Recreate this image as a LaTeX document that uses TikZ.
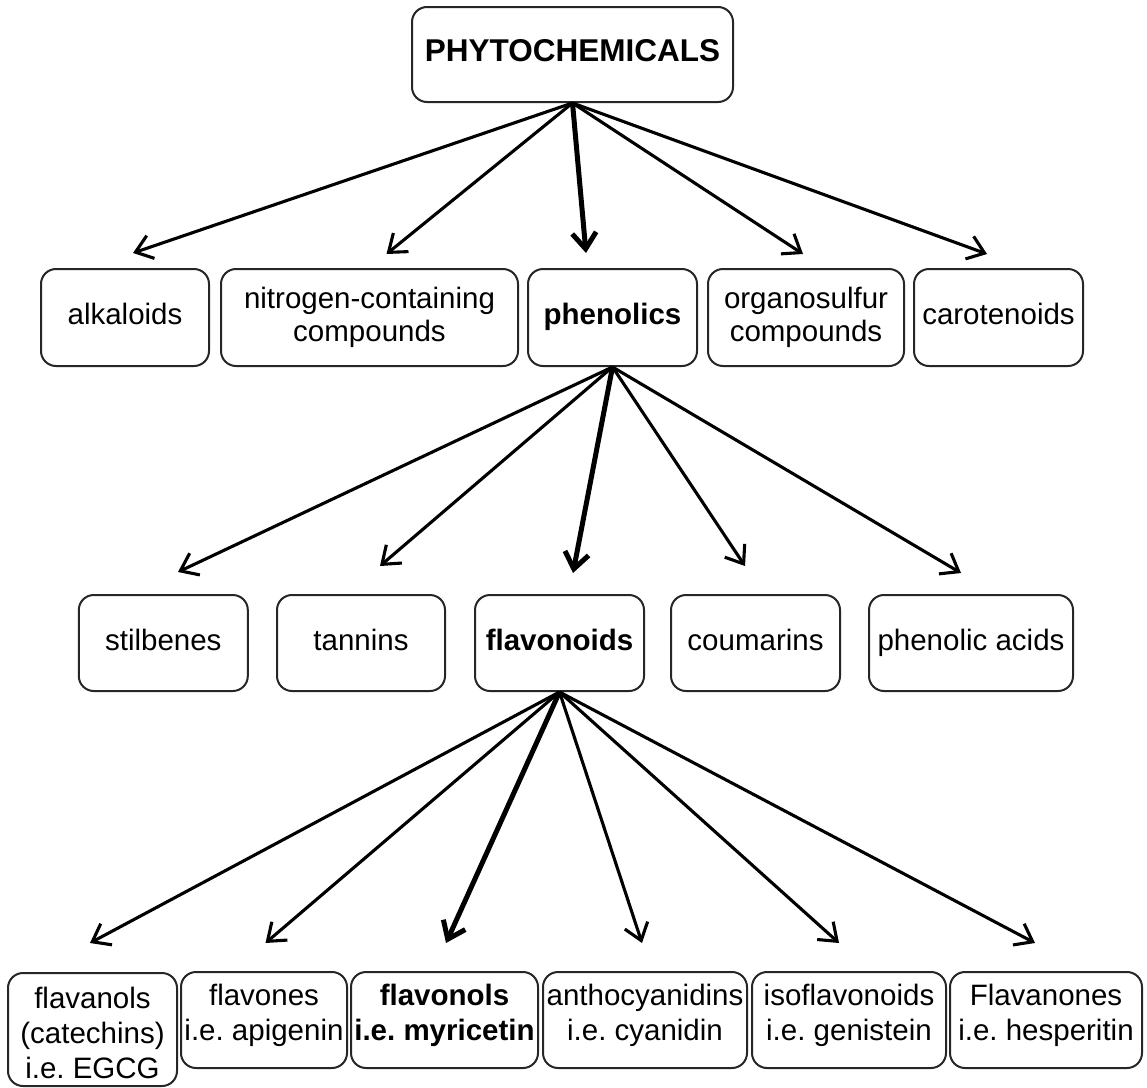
\documentclass[tikz,border=0pt]{standalone}
\usepackage{fontspec}
\setmainfont{Liberation Sans}
\usetikzlibrary{arrows.meta}
\frenchspacing
\tikzset{
  box/.style={draw=black!85, line width=2pt, rounded corners=15pt, inner sep=0pt, align=center,
    font=\fontsize{29.5}{33.5}\selectfont},
  one/.style={text height=21pt, text depth=7pt},
  lbl/.style={inner sep=0pt, align=center, font=\fontsize{29.5}{35}\selectfont},
  arr/.style={line width=3.1pt, line join=round, -{Straight Barb[length=16pt,width=24pt]}},
  thickarr/.style={line width=5pt, line join=round, -{Straight Barb[length=16pt,width=24pt]}},
}
\begin{document}
\begin{tikzpicture}[x=1pt,y=-1pt]
\useasboundingbox (0,0) rectangle (1147,1087);
% top
\node[box, one, minimum width=321pt, minimum height=95pt, font=\fontsize{31.5}{36}\selectfont\bfseries] (top) at (572.5,54.5) {PHYTOCHEMICALS};
% row 2
\node[box, one, minimum width=168pt, minimum height=97pt] (alk) at (125,317.5) {alkaloids};
\node[box, minimum width=297pt, minimum height=97pt] (nit) at (369.5,317.5) {nitrogen-containing\\compounds};
\node[box, one, minimum width=169pt, minimum height=97pt, font=\fontsize{29.5}{33.5}\selectfont\bfseries] (phe) at (612.5,317.5) {phenolics};
\node[box, minimum width=196pt, minimum height=97pt] (org) at (806,317.5) {organosulfur\\compounds};
\node[box, one, minimum width=169pt, minimum height=97pt] (car) at (998.5,317.5) {carotenoids};
% row 3
\node[box, one, minimum width=169pt, minimum height=96pt] (sti) at (163.3,643) {stilbenes};
\node[box, one, minimum width=168pt, minimum height=96pt] (tan) at (361,643) {tannins};
\node[box, one, minimum width=169pt, minimum height=96pt, font=\fontsize{29.5}{33.5}\selectfont\bfseries] (flv) at (559.5,643) {flavonoids};
\node[box, one, minimum width=169pt, minimum height=96pt] (cou) at (755.5,643) {coumarins};
\node[box, one, minimum width=204pt, minimum height=96pt] (pac) at (971,643) {phenolic acids};
% row 4
\node[box, minimum width=169pt, minimum height=113pt] (fa) at (92.5,1029.5) {};
\node[box, minimum width=166pt, minimum height=96pt] (fb) at (264,1020) {};
\node[box, minimum width=187pt, minimum height=96pt] (fc) at (444.5,1020) {};
\node[box, minimum width=204pt, minimum height=96pt] (fd) at (645,1020) {};
\node[box, minimum width=194pt, minimum height=96pt] (fe) at (849,1020) {};
\node[box, minimum width=192pt, minimum height=96pt] (ff) at (1046,1020) {};
\node[lbl, yshift=-3pt] (fat) at (fa.center) {flavanols\\(catechins)\\i.e. EGCG};
\node[lbl, yshift=5pt] (fbt) at (fb.center) {flavones\\i.e. apigenin};
\node[lbl, yshift=5pt, font=\fontsize{29.5}{35}\selectfont\bfseries] (fct) at (fc.center) {flavonols\\i.e. myricetin};
\node[lbl, yshift=5pt] (fdt) at (fd.center) {anthocyanidins\\i.e. cyanidin};
\node[lbl, yshift=5pt] (fet) at (fe.center) {isoflavonoids\\i.e. genistein};
\node[lbl, yshift=5pt] (fft) at (ff.center) {Flavanones\\i.e. hesperitin};
% arrow tips
\coordinate (t1) at (133,253);
\coordinate (t2) at (386.5,254);
\coordinate (t3) at (586,253);
\coordinate (t4) at (803,254);
\coordinate (t5) at (987,254);
\coordinate (s1) at (178,572);
\coordinate (s2) at (380,566);
\coordinate (s3) at (573,573);
\coordinate (s4) at (745,566);
\coordinate (s5) at (961,573);
\coordinate (u1) at (90,943);
\coordinate (u2) at (265.5,943);
\coordinate (u3) at (446,943);
\coordinate (u4) at (642,943);
\coordinate (u5) at (839,943);
\coordinate (u6) at (1035,943);
% arrows
\draw[arr] (top.south) -- (t1);
\draw[arr] (top.south) -- (t2);
\draw[thickarr] (top.south) -- (t3);
\draw[arr] (top.south) -- (t4);
\draw[arr] (top.south) -- (t5);
\draw[arr] (phe.south) -- (s1);
\draw[arr] (phe.south) -- (s2);
\draw[thickarr] (phe.south) -- (s3);
\draw[arr] (phe.south) -- (s4);
\draw[arr] (phe.south) -- (s5);
\draw[arr] (flv.south) -- (u1);
\draw[arr] (flv.south) -- (u2);
\draw[thickarr] (flv.south) -- (u3);
\draw[arr] (flv.south) -- (u4);
\draw[arr] (flv.south) -- (u5);
\draw[arr] (flv.south) -- (u6);
\end{tikzpicture}
\end{document}
